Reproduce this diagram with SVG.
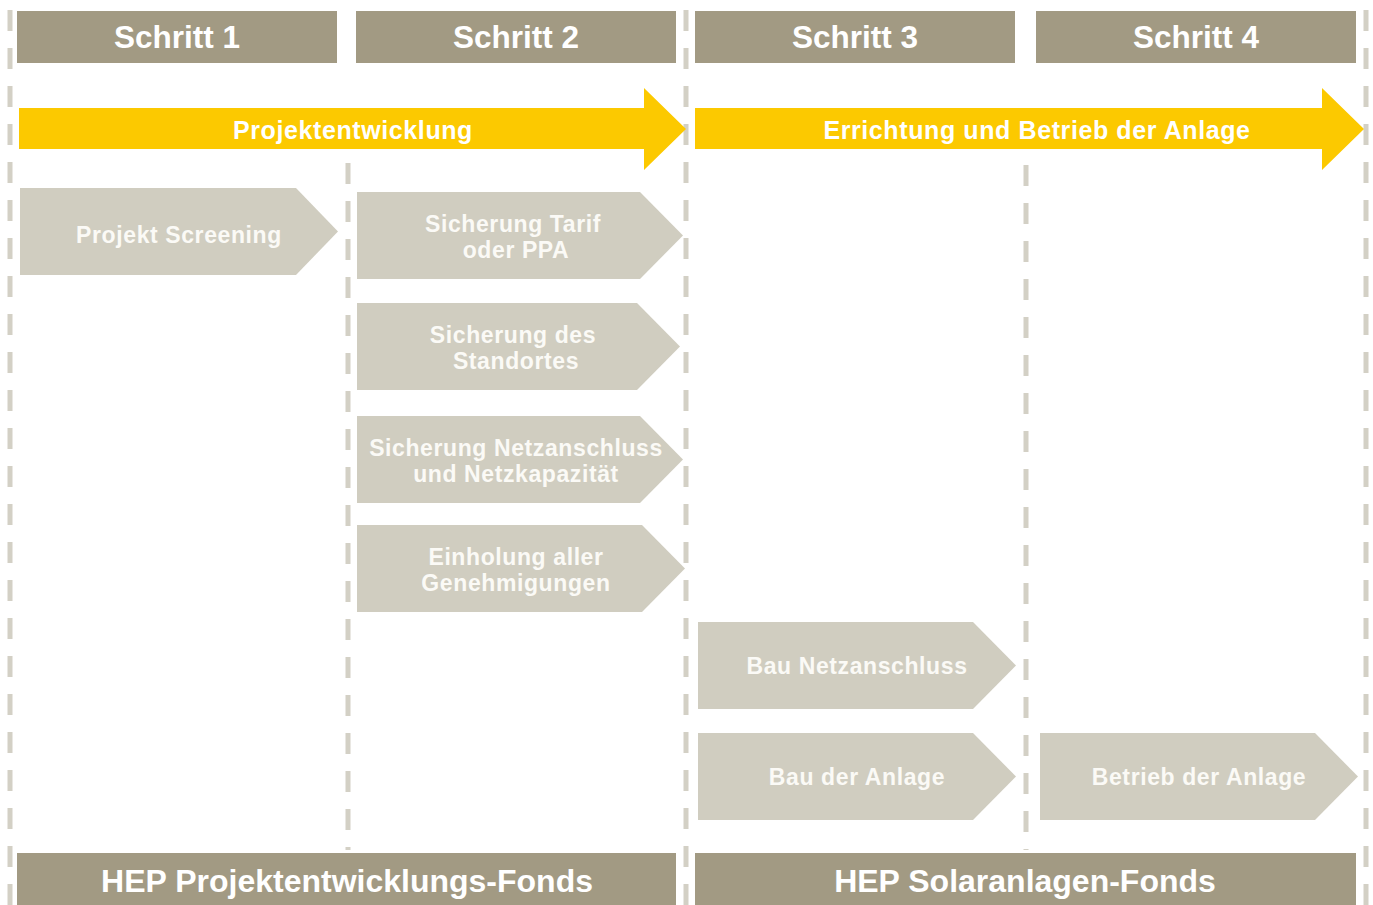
<svg xmlns="http://www.w3.org/2000/svg" width="1373" height="905" viewBox="0 0 1373 905">
<style>
.dash{stroke:#d3d0c5;stroke-width:5;stroke-dasharray:21 17;fill:none}
.hdr{fill:#a29a83}
.ht{fill:#fff;font-family:"Liberation Sans",Arial,sans-serif;font-weight:bold;font-size:31.5px;text-anchor:middle}
.ft{fill:#fff;font-family:"Liberation Sans",Arial,sans-serif;font-weight:bold;font-size:32px;text-anchor:middle}
.ya{fill:#fcc900}
.yt{fill:#fff;font-family:"Liberation Sans",Arial,sans-serif;font-weight:bold;font-size:25px;letter-spacing:0.6px;text-anchor:middle}
.na{fill:#d0cdc0}
.nt{fill:#fbfaf6;font-family:"Liberation Sans",Arial,sans-serif;font-weight:bold;font-size:23px;letter-spacing:0.6px;text-anchor:middle}
</style>
<rect width="1373" height="905" fill="#fff"/>
<g id="connectors">
<line class="dash" x1="10" y1="10" x2="10" y2="905"/>
<line class="dash" x1="348" y1="163" x2="348" y2="850"/>
<line class="dash" x1="686" y1="10" x2="686" y2="905"/>
<line class="dash" x1="1026" y1="165" x2="1026" y2="850"/>
<line class="dash" x1="1366" y1="10" x2="1366" y2="905"/>
</g>
<g id="schritt1"><rect class="hdr" x="17" y="11" width="320" height="52"/><text class="ht" x="177" y="48">Schritt 1</text></g>
<g id="schritt2"><rect class="hdr" x="356" y="11" width="320" height="52"/><text class="ht" x="516" y="48">Schritt 2</text></g>
<g id="schritt3"><rect class="hdr" x="695" y="11" width="320" height="52"/><text class="ht" x="855" y="48">Schritt 3</text></g>
<g id="schritt4"><rect class="hdr" x="1036" y="11" width="320" height="52"/><text class="ht" x="1196" y="48">Schritt 4</text></g>
<g id="projektentwicklung"><polygon class="ya" points="19,108 644,108 644,88 686,129 644,170 644,149 19,149"/><text class="yt" x="353" y="139">Projektentwicklung</text></g>
<g id="errichtung"><polygon class="ya" points="695,108 1322,108 1322,88 1364,129 1322,170 1322,149 695,149"/><text class="yt" x="1037" y="139">Errichtung und Betrieb der Anlage</text></g>
<g id="screening"><polygon class="na" points="20,188 296,188 338,231.5 296,275 20,275"/><text class="nt" x="179" y="243">Projekt Screening</text></g>
<g id="tarif"><polygon class="na" points="357,192 640,192 683,235.5 640,279 357,279"/><text class="nt" x="513" y="232">Sicherung Tarif</text><text class="nt" x="516" y="258">oder PPA</text></g>
<g id="standort"><polygon class="na" points="357,303 637,303 680,346.5 637,390 357,390"/><text class="nt" x="513" y="343">Sicherung des</text><text class="nt" x="516" y="369">Standortes</text></g>
<g id="netzanschluss"><polygon class="na" points="357,416 640,416 683,459.5 640,503 357,503"/><text class="nt" x="516" y="456">Sicherung Netzanschluss</text><text class="nt" x="516" y="482">und Netzkapazität</text></g>
<g id="genehmigungen"><polygon class="na" points="357,525 642,525 685,568.5 642,612 357,612"/><text class="nt" x="516" y="565">Einholung aller</text><text class="nt" x="516" y="591">Genehmigungen</text></g>
<g id="baunetz"><polygon class="na" points="698,622 973,622 1016,665.5 973,709 698,709"/><text class="nt" x="857" y="674">Bau Netzanschluss</text></g>
<g id="bauanlage"><polygon class="na" points="698,733 973,733 1016,776.5 973,820 698,820"/><text class="nt" x="857" y="785">Bau der Anlage</text></g>
<g id="betrieb"><polygon class="na" points="1040,733 1315,733 1358,776.5 1315,820 1040,820"/><text class="nt" x="1199" y="785">Betrieb der Anlage</text></g>
<g id="fonds1"><rect class="hdr" x="17" y="853" width="659" height="52"/><text class="ft" x="347" y="892">HEP Projektentwicklungs-Fonds</text></g>
<g id="fonds2"><rect class="hdr" x="695" y="853" width="661" height="52"/><text class="ft" x="1025" y="892">HEP Solaranlagen-Fonds</text></g>
</svg>
